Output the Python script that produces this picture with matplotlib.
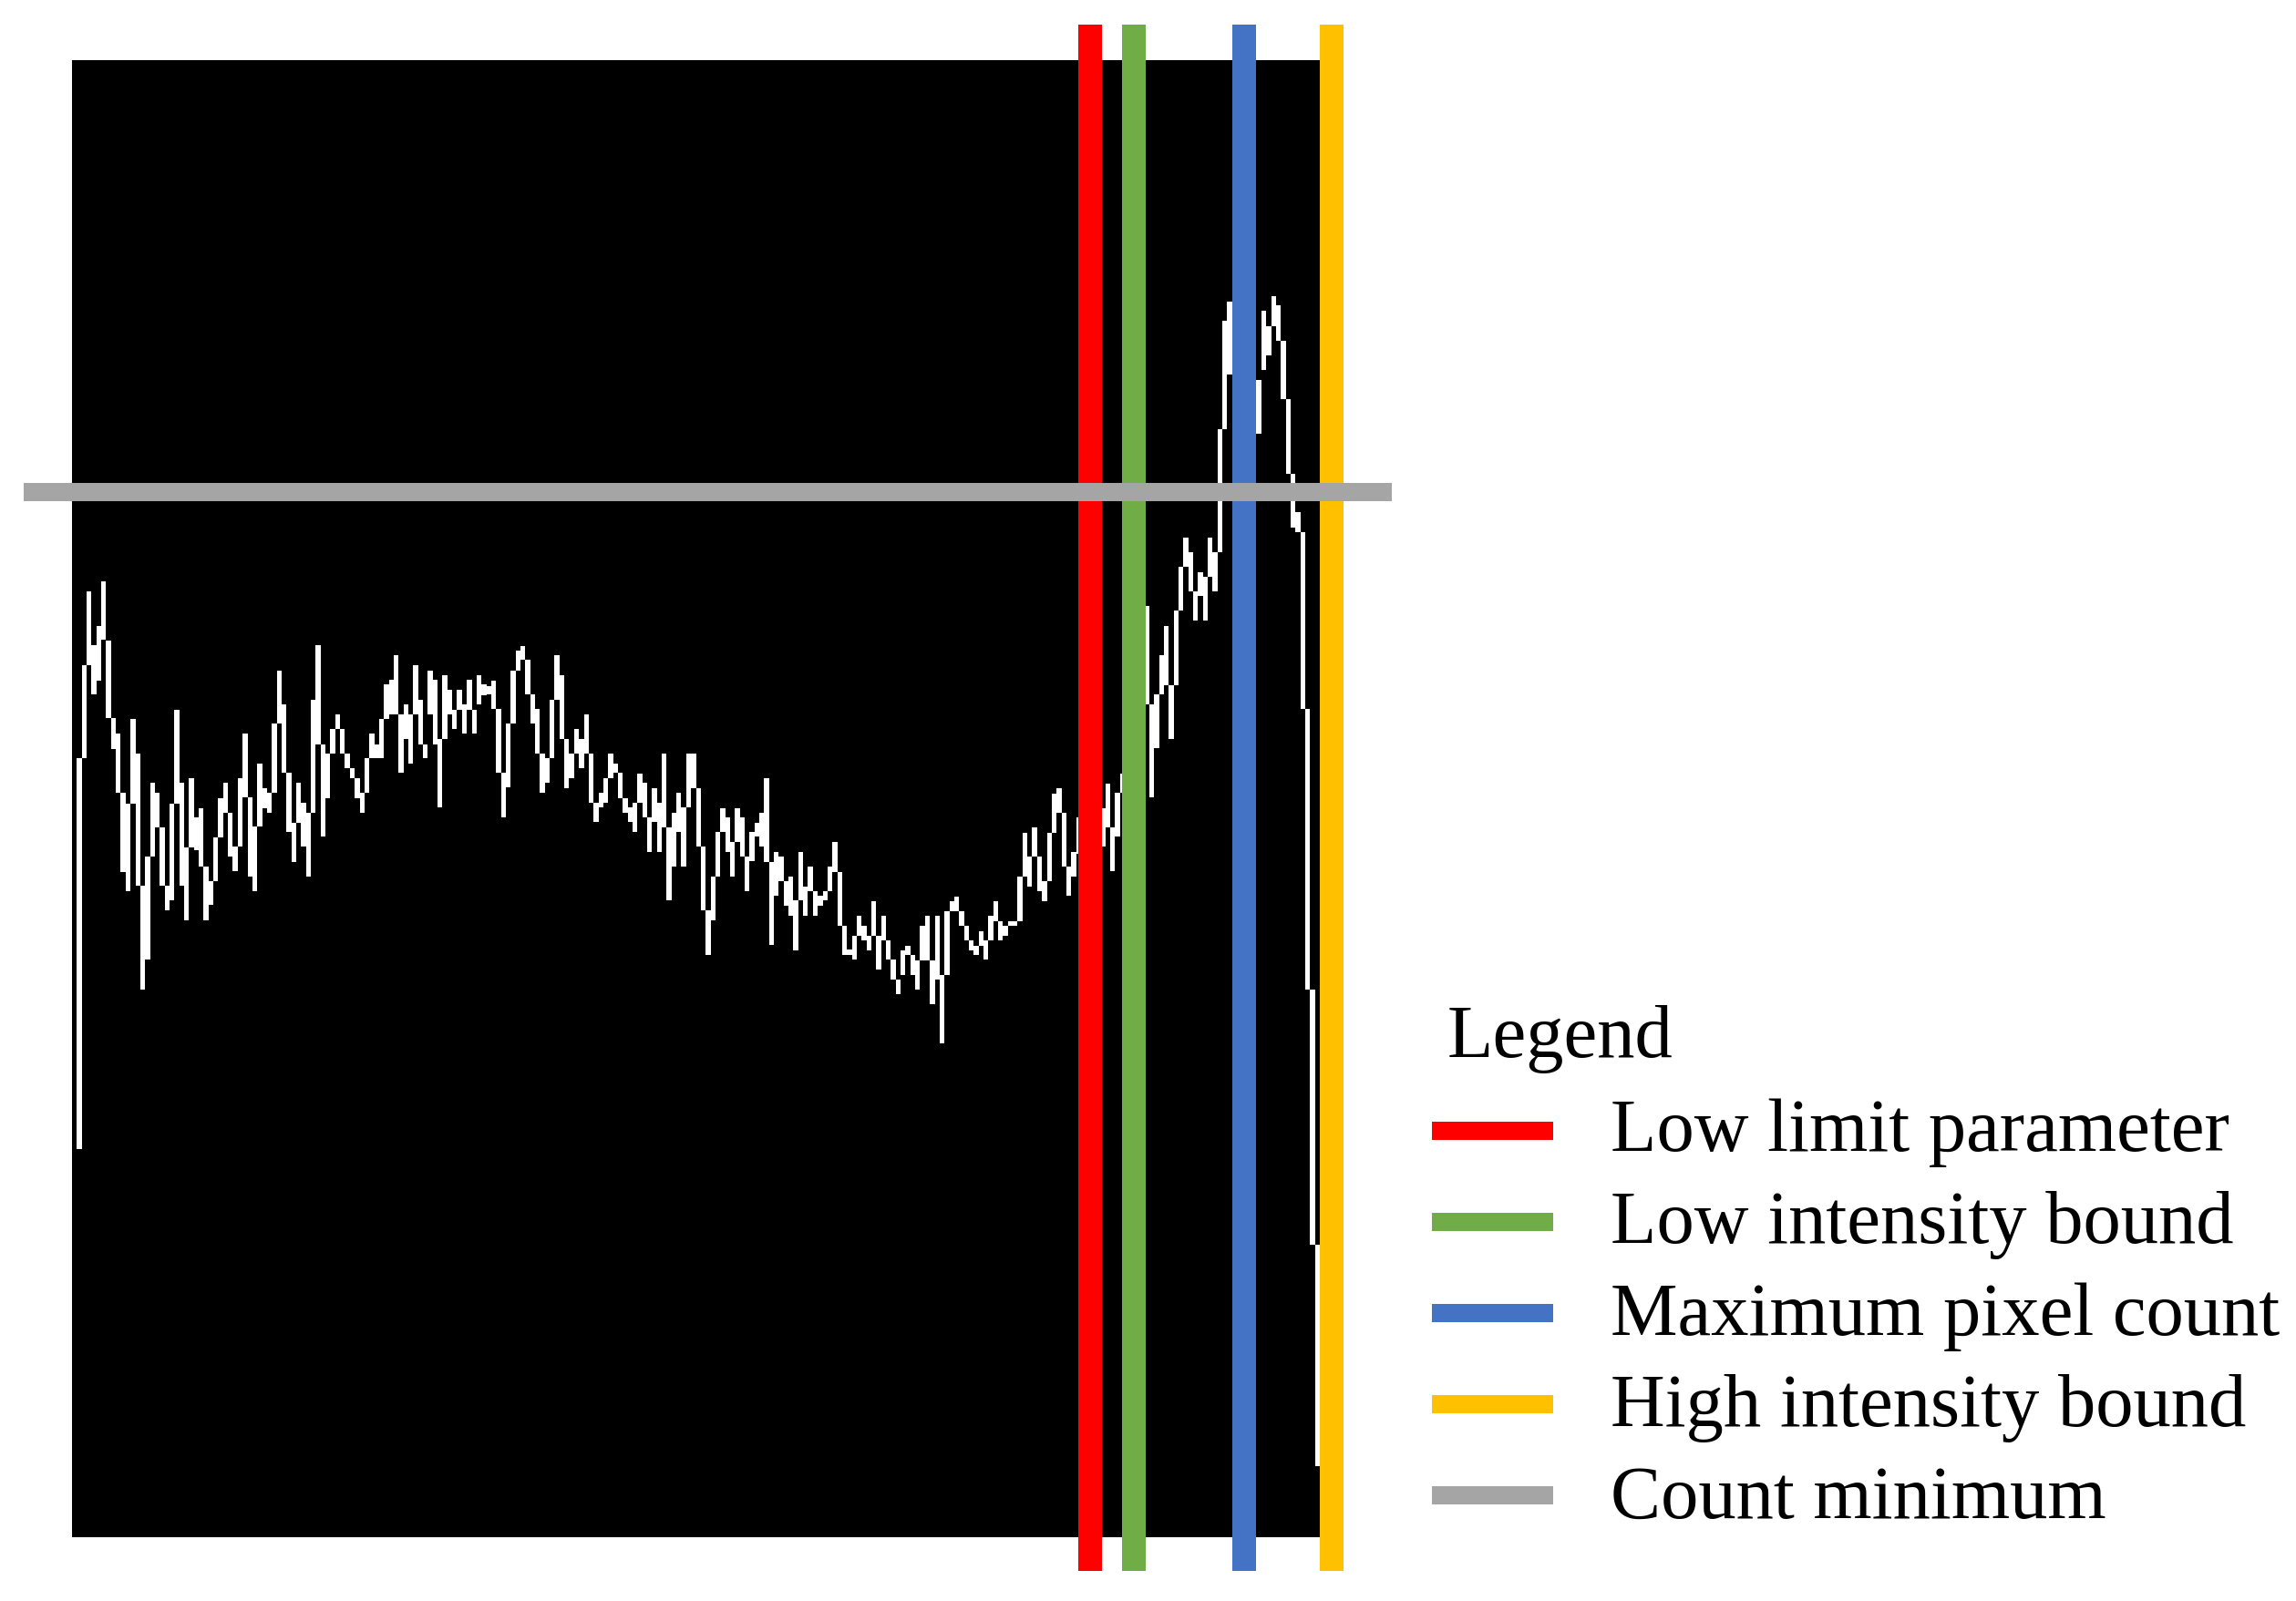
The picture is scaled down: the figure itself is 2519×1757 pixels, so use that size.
import matplotlib
matplotlib.use("Agg")
import matplotlib.pyplot as plt
from matplotlib.lines import Line2D
import numpy as np

# ---------------- data ----------------
# per-intensity span of the drawn histogram trace (count units, 0 = bottom of plot)
hist_low = [
    426, 426, 855, 957, 925, 940, 985, 899, 865, 817, 730, 709, 805, 715, 601, 634,
    747, 779, 715, 688, 699, 805, 715, 677, 757, 754, 736, 677, 694, 720, 768, 795,
    747, 731, 758, 812, 725, 709, 780, 800, 795, 817, 893, 839, 774, 741, 784, 758,
    725, 795, 870, 769, 811, 860, 887, 860, 844, 833, 811, 795, 817, 855, 855, 855,
    898, 903, 903, 839, 876, 849, 903, 870, 855, 903, 870, 801, 876, 903, 887, 908,
    882, 908, 882, 914, 924, 925, 909, 839, 790, 823, 893, 951, 963, 925, 893, 860,
    817, 828, 855, 919, 876, 822, 833, 860, 844, 860, 806, 785, 801, 806, 833, 839,
    811, 795, 785, 774, 806, 790, 752, 785, 752, 779, 699, 736, 774, 736, 801, 822,
    758, 688, 639, 677, 725, 774, 752, 725, 763, 747, 709, 742, 769, 758, 741, 650,
    704, 720, 693, 682, 644, 699, 682, 709, 682, 693, 699, 709, 730, 671, 639, 639,
    634, 660, 655, 644, 660, 623, 655, 634, 612, 596, 617, 639, 617, 601, 633, 633,
    585, 612, 542, 617, 687, 687, 671, 655, 644, 639, 649, 634, 655, 676, 655, 660,
    671, 671, 676, 725, 714, 747, 709, 698, 720, 773, 795, 736, 704, 725, 750, 745,
    760, 755, 760, 758, 779, 731, 769, 817, 830, 850, 870, 900, 914, 812, 866, 925,
    935, 876, 935, 1017, 1065, 1038, 1006, 1033, 1006, 1054, 1038, 1081, 1216, 1276, 1300, 1290,
    1260, 1240, 1211, 1211, 1281, 1297, 1329, 1313, 1249, 1167, 1108, 1103, 909, 601, 321, 78,
]
hist_high = [
    426, 855, 957, 1038, 979, 1000, 1049, 984, 899, 882, 817, 805, 898, 860, 715, 747,
    828, 817, 779, 715, 805, 908, 828, 757, 833, 790, 800, 736, 720, 768, 811, 828,
    795, 758, 833, 882, 812, 780, 849, 822, 817, 893, 951, 914, 839, 784, 828, 806,
    795, 919, 979, 870, 860, 887, 903, 887, 860, 844, 833, 817, 855, 882, 870, 898,
    936, 941, 968, 903, 914, 903, 957, 919, 870, 951, 941, 876, 946, 930, 908, 930,
    914, 941, 908, 946, 936, 934, 940, 909, 839, 893, 951, 973, 978, 963, 925, 909,
    860, 855, 919, 968, 946, 876, 860, 887, 876, 903, 860, 806, 817, 833, 860, 849,
    839, 811, 801, 806, 838, 828, 790, 822, 806, 860, 779, 795, 817, 801, 860, 860,
    822, 758, 688, 725, 774, 800, 790, 763, 800, 790, 747, 774, 784, 795, 833, 741,
    752, 747, 720, 725, 699, 752, 714, 736, 709, 704, 709, 736, 763, 730, 671, 645,
    660, 682, 671, 660, 698, 660, 682, 655, 634, 612, 644, 649, 639, 633, 671, 682,
    633, 682, 617, 687, 698, 703, 687, 671, 655, 649, 665, 655, 682, 698, 676, 671,
    676, 676, 725, 773, 747, 779, 747, 720, 773, 816, 822, 795, 736, 752, 790, 780,
    800, 790, 805, 800, 827, 779, 817, 838, 880, 900, 930, 960, 1022, 914, 925, 968,
    1000, 935, 1017, 1065, 1097, 1081, 1038, 1059, 1054, 1097, 1081, 1216, 1335, 1356, 1350, 1340,
    1310, 1290, 1260, 1270, 1346, 1329, 1362, 1352, 1313, 1249, 1167, 1125, 1103, 909, 601, 321,
]
intensity = np.arange(256)

threshold_names = ["Low limit parameter", "Low intensity bound",
                   "Maximum pixel count", "High intensity bound"]
threshold_values = [208.9, 217.85, 240.45, 258.4]
threshold_colors = ["#FF0000", "#70AD47", "#4472C4", "#FFC000"]
count_minimum = 1147
count_minimum_label = "Count minimum"
count_minimum_color = "#A5A5A5"
legend_title = "Legend"

# ---------------- figure ----------------
W, H = 2519, 1757
fig = plt.figure(figsize=(W / 100, H / 100), dpi=100, facecolor="white")
ax = fig.add_axes([79 / W, 1 - 1687 / H, (1448 - 79) / W, (1687 - 66) / H])
ax.set_facecolor("black")
ax.set_xlim(0, 256)
ax.set_ylim(0, 1621)
ax.set_xticks([])
ax.set_yticks([])
for s in ax.spines.values():
    s.set_visible(False)

low = np.array(hist_low, dtype=float)
high = np.array(hist_high, dtype=float)
ax.bar(intensity + 0.5, high - low, bottom=low, width=1.0, color="white",
       linewidth=0, antialiased=False, zorder=2)

px = 72 / 100  # points per pixel
for v, c in zip(threshold_values, threshold_colors):
    ax.plot([v, v], [-37, 1660], color=c, lw=26 * px, solid_capstyle="butt",
            clip_on=False, zorder=3)
ax.plot([-9.9, 270.7], [count_minimum, count_minimum], color=count_minimum_color,
        lw=20 * px, solid_capstyle="butt", clip_on=False, zorder=4)

# ---------------- legend ----------------
font = dict(family=["Liberation Serif", "DejaVu Serif"], size=59.5, color="black")
fig.text(1588 / W, 1 - 1160 / H, legend_title, ha="left", va="baseline", **font)
names = threshold_names + [count_minimum_label]
colors = threshold_colors + [count_minimum_color]
for k, (n, c) in enumerate(zip(names, colors)):
    yc = 1240.6 + 100.1 * k
    yb = 1263 + 100.8 * k
    fig.add_artist(Line2D([1571 / W, 1704 / W], [1 - yc / H, 1 - yc / H],
                          transform=fig.transFigure, color=c, lw=20 * px,
                          solid_capstyle="butt"))
    fig.text(1767 / W, 1 - yb / H, n, ha="left", va="baseline", **font)

fig.savefig("out.png", dpi=100, facecolor="white")
